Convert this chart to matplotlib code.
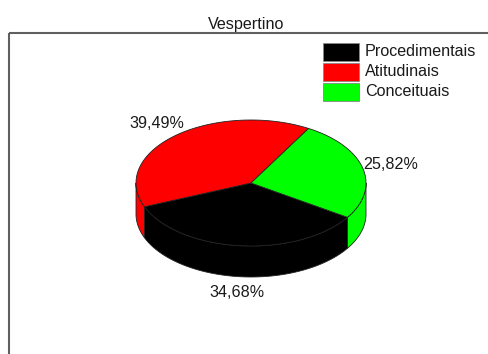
import numpy as np
import matplotlib.pyplot as plt
from matplotlib.patches import Polygon, Rectangle

plt.rcParams['font.family'] = ['Liberation Sans', 'DejaVu Sans']

# data
title = 'Vespertino'
labels = ['Procedimentais', 'Atitudinais', 'Conceituais']
values = [34.68, 39.49, 25.82]
pct_text = ['34,68%', '39,49%', '25,82%']
colors = ['#000000', '#ff0000', '#00ff00']

# figure in pixel coordinates
fig = plt.figure(figsize=(4.89, 3.54), dpi=100)
ax = fig.add_axes([0, 0, 1, 1])
ax.set_xlim(0, 489)
ax.set_ylim(354, 0)
ax.axis('off')

fs = 11.6
txt_color = '#1a1a1a'

# plot area frame (runs off the right and bottom)
ax.add_patch(Rectangle((9, 33), 520, 400, facecolor='none',
                       edgecolor='#606060', lw=1.5, clip_on=False))
ax.text(246, 29, title, ha='center', va='baseline', fontsize=fs, color=txt_color)

# 3d pie geometry
cx, cy = 251, 183
rx, ry = 115, 63
depth = 31
start = 327.0  # degrees, slices go clockwise

vals = np.array(values)
bounds = start - 360 * np.concatenate([[0], np.cumsum(vals) / vals.sum()])


def pt(t, dy=0.0):
    t = np.radians(t)
    return cx + rx * np.cos(t), cy - ry * np.sin(t) + dy


edge = '#222222'

# side walls (front half only)
for i in range(len(vals)):
    hi, lo = bounds[i], bounds[i + 1]
    for k in (-1, 0, 1):
        a = max(lo, 180 + 360 * k)
        b = min(hi, 360 + 360 * k)
        if b <= a:
            continue
        ts = np.linspace(a, b, 80)
        xt, yt = pt(ts)
        xb, yb = pt(ts[::-1], depth)
        poly = np.column_stack([np.concatenate([xt, xb]), np.concatenate([yt, yb])])
        ax.add_patch(Polygon(poly, closed=True, facecolor=colors[i],
                             edgecolor=edge, lw=0.6))

# top faces
for i in range(len(vals)):
    hi, lo = bounds[i], bounds[i + 1]
    ts = np.linspace(hi, lo, 200)
    xs, ys = pt(ts)
    poly = np.column_stack([np.concatenate([[cx], xs]), np.concatenate([[cy], ys])])
    ax.add_patch(Polygon(poly, closed=True, facecolor=colors[i],
                         edgecolor=edge, lw=0.6))

# percentage labels
for i in range(len(vals)):
    mid = (bounds[i] + bounds[i + 1]) / 2
    t = np.radians(mid)
    lx = cx + 1.25 * rx * np.cos(t)
    ly = cy - 1.25 * ry * np.sin(t) + (depth if np.sin(t) < 0 else 0)
    ax.text(lx, ly, pct_text[i], ha='center', va='center', fontsize=fs, color=txt_color)

# legend
for i, lab in enumerate(labels):
    y0 = 43 + 20 * i
    ax.add_patch(Rectangle((323, y0), 36, 18, facecolor=colors[i],
                           edgecolor='#888888', lw=0.6))
    ax.text(365, y0 + 9, lab, ha='left', va='center', fontsize=fs, color=txt_color)

fig.savefig('out.png', dpi=100)
